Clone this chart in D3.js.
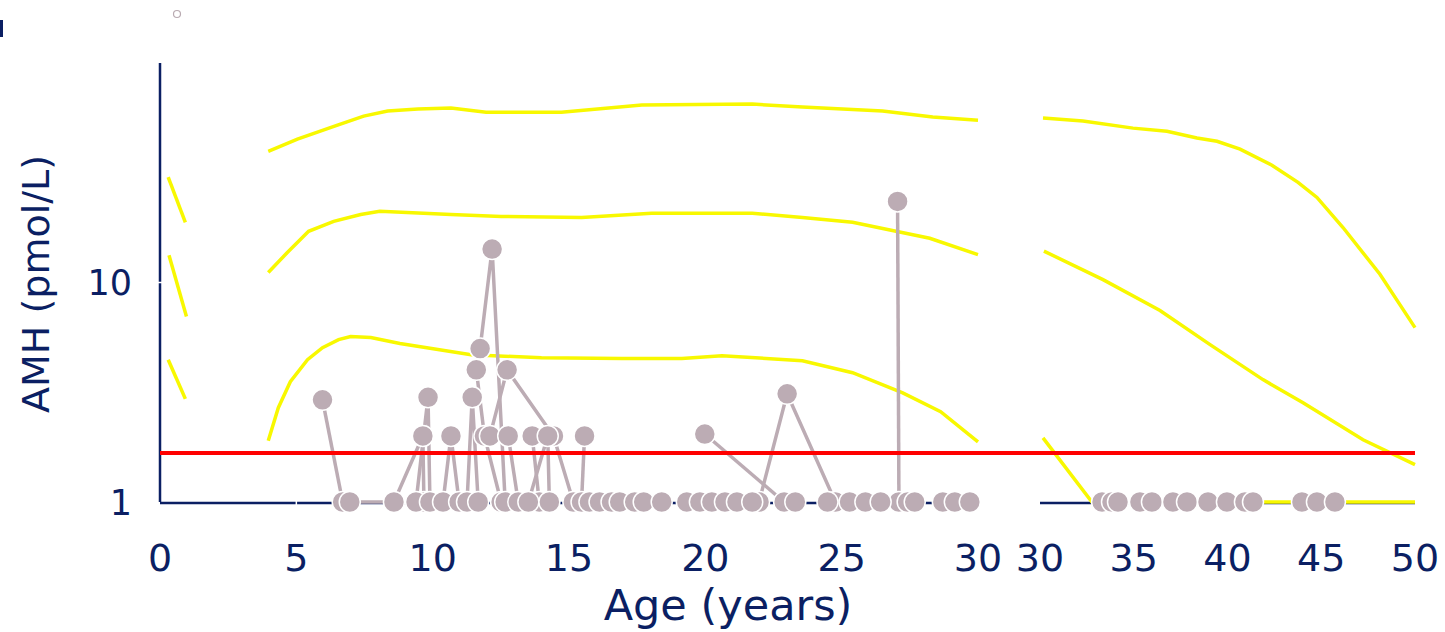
<!DOCTYPE html>
<html><head><meta charset="utf-8">
<script src="https://cdn.jsdelivr.net/npm/d3@7"></script>
<style>body{margin:0;background:#fff;overflow:hidden} text{font-family:"DejaVu Sans",Verdana,sans-serif}</style>
</head><body>
<svg id="c" width="1445" height="632"></svg>
<script>
// ---------- data ----------
const leftTicks = [0, 5, 10, 15, 20, 25, 30];
const rightTicks = [30, 35, 40, 45, 50];
const yTicks = [1, 10];
const xTitle = "Age (years)";
const yTitle = "AMH (pmol/L)";
const threshold = 1.67;

// reference centile curves (age, AMH)
const infantUpper = [[0.3, 30.2], [0.93, 18.8]];
const infantMiddle = [[0.33, 13.3], [0.97, 7.0]];
const infantLower = [[0.3, 4.45], [0.93, 2.95]];
const leftUpper = [[3.97,39.6],[5.04,45.0],[6.51,52.1],[7.47,57.3],[8.35,60.4],[9.46,61.7],[10.67,62.3],[11.96,59.7],[14.72,59.7],[17.67,64.3],[21.72,65.0],[23.56,63.0],[26.5,60.4],[28.34,56.7],[30,54.9]];
const leftMiddle = [[3.97,11.1],[4.67,13.7],[5.45,17.1],[6.37,19.0],[7.36,20.4],[8.06,21.1],[10.67,20.4],[12.51,20.0],[15.46,19.8],[18.03,20.7],[21.72,20.7],[23.56,19.8],[25.4,18.8],[28.23,15.9],[30,13.4]];
const leftLower = [[3.97,1.90],[4.34,2.69],[4.78,3.53],[5.41,4.45],[5.96,5.05],[6.55,5.49],[6.99,5.67],[7.73,5.61],[8.8,5.27],[11.41,4.69],[13.99,4.54],[16.93,4.50],[19.14,4.50],[20.61,4.64],[23.56,4.40],[25.4,3.88],[27.24,3.14],[28.63,2.58],[30,1.88]];
const rightUpper = [[30.16,56.1],[32.29,54.4],[34.96,50.5],[36.77,48.9],[38.37,45.5],[39.44,44.0],[40.67,40.5],[42.37,34.2],[43.76,28.6],[44.77,24.4],[46.16,17.8],[48.13,10.9],[50,6.23]];
const rightMiddle = [[30.21,13.9],[33.36,10.3],[36.4,7.45],[39.07,5.21],[41.89,3.61],[44.03,2.83],[47.23,1.92],[50,1.48]];
const rightLower = [[30.16,1.96],[32.77,1.0],[40,1.0],[50,1.0]];

// patient trajectories (age, AMH)
const trajectories = [
  [[5.96,2.92],[6.70,1]],
  [[6.96,1],[8.58,1],[9.64,2],[9.68,1]],
  [[9.39,1],[9.83,3],[9.90,1]],
  [[10.38,1],[10.67,2],[10.97,1]],
  [[11.26,1],[11.45,3],[11.67,1]],
  [[11.60,4],[11.90,2],[12.51,1]],
  [[11.74,5],[12.18,14.2],[12.66,1]],
  [[12.10,2],[12.73,4],[14.43,2],[15.16,1]],
  [[12.77,2],[13.14,1]],
  [[13.65,2],[13.91,1]],
  [[13.51,1],[14.22,2],[14.28,1]],
  [[15.46,1],[15.57,2]],
  [[19.98,2.04],[22.89,1]],
  [[21.97,1],[23.0,3.11],[24.77,1]],
  [[27.05,23.4],[27.10,1]]
];
const singlesLeft = [15.75,16.12,16.56,16.86,17.41,17.74,18.40,19.32,19.80,20.24,20.72,21.16,21.72,23.30,24.48,25.29,25.87,26.43,27.42,27.68,28.71,29.15,29.70];
const singlesRight = [33.31,33.84,34.16,35.33,35.97,37.09,37.84,38.96,39.97,40.93,41.36,43.97,44.77,45.73];
const singleValue = 1;

// ---------- drawing ----------
const navy = "#0b1f63", yellow = "#f8f800", grey = "#bcacb4";
const svg = d3.select("#c");
const y = d3.scaleLog().domain([1, 100]).range([502, 63]);
const xL = d3.scaleLinear().domain([0, 30]).range([160, 978]);
const xR = d3.scaleLinear().domain([30, 50]).range([1040, 1415]);

// axes lines
svg.append("line").attr("x1",160).attr("x2",160).attr("y1",y(100)).attr("y2",y(1)).attr("stroke",navy).attr("stroke-width",2.5);
svg.append("line").attr("x1",xL(0)).attr("x2",xL(30)+2).attr("y1",y(1)+1).attr("y2",y(1)+1).attr("stroke",navy).attr("stroke-width",2.5);
svg.append("line").attr("x1",xR(30)).attr("x2",xR(50)).attr("y1",y(1)+1).attr("y2",y(1)+1).attr("stroke",navy).attr("stroke-width",2.5);

// white tick marks
svg.selectAll(".xt").data(leftTicks.filter(d=>d>0&&d<30)).enter().append("line")
  .attr("x1",d=>xL(d)).attr("x2",d=>xL(d)).attr("y1",y(1)-3).attr("y2",y(1)+4).attr("stroke","#fff").attr("stroke-width",1.5);
svg.selectAll(".yt").data(yTicks.filter(d=>d>1)).enter().append("line")
  .attr("x1",157).attr("x2",163).attr("y1",d=>y(d)).attr("y2",d=>y(d)).attr("stroke","#fff").attr("stroke-width",1.5);

// tick labels
svg.selectAll(".xl").data(leftTicks).enter().append("text")
  .attr("x",d=>xL(d)).attr("y",571).attr("text-anchor","middle").attr("font-size",38).attr("fill",navy).text(d=>d);
svg.selectAll(".xr").data(rightTicks).enter().append("text")
  .attr("x",d=>xR(d)).attr("y",571).attr("text-anchor","middle").attr("font-size",38).attr("fill",navy).text(d=>d);
svg.selectAll(".yl").data(yTicks).enter().append("text")
  .attr("x",132).attr("y",d=>y(d)).attr("dy","0.36em").attr("text-anchor","end").attr("font-size",35).attr("fill",navy).text(d=>d);

// titles
svg.append("text").attr("x",728).attr("y",620).attr("text-anchor","middle").attr("font-size",43).attr("fill",navy).text(xTitle);
svg.append("text").attr("transform","translate(49,284) rotate(-90)").attr("text-anchor","middle").attr("font-size",38).attr("fill",navy).text(yTitle);

// clipped mark at top-left and small marker
svg.append("rect").attr("x",0).attr("y",20).attr("width",3).attr("height",17).attr("fill",navy);
svg.append("circle").attr("cx",177).attr("cy",14).attr("r",3.5).attr("fill","none").attr("stroke","#b9aab1").attr("stroke-width",1.2);

// reference curves
const lineL = d3.line().x(d=>xL(d[0])).y(d=>y(d[1]));
const lineR = d3.line().x(d=>xR(d[0])).y(d=>y(d[1]));
[infantUpper, infantMiddle, infantLower, leftUpper, leftMiddle, leftLower].forEach(c=>{
  svg.append("path").attr("d",lineL(c)).attr("fill","none").attr("stroke",yellow).attr("stroke-width",3.5);
});
[rightUpper, rightMiddle, rightLower].forEach(c=>{
  svg.append("path").attr("d",lineR(c)).attr("fill","none").attr("stroke",yellow).attr("stroke-width",3.5);
});

// trajectories lines
trajectories.forEach(t=>{
  svg.append("path").attr("d",lineL(t)).attr("fill","none").attr("stroke",grey).attr("stroke-width",3.5);
});

// threshold
svg.append("line").attr("x1",160).attr("x2",xR(50)).attr("y1",y(threshold)).attr("y2",y(threshold)).attr("stroke","#ff0000").attr("stroke-width",4);

// points
const ptsL = trajectories.flat().concat(singlesLeft.map(a=>[a,singleValue]));
svg.selectAll(".pl").data(ptsL).enter().append("circle")
  .attr("cx",d=>xL(d[0])).attr("cy",d=>y(d[1])).attr("r",10.5).attr("fill",grey).attr("stroke","#fff").attr("stroke-width",1.5);
svg.selectAll(".pr").data(singlesRight).enter().append("circle")
  .attr("cx",d=>xR(d)).attr("cy",y(singleValue)).attr("r",10.5).attr("fill",grey).attr("stroke","#fff").attr("stroke-width",1.5);
</script>
</body></html>
